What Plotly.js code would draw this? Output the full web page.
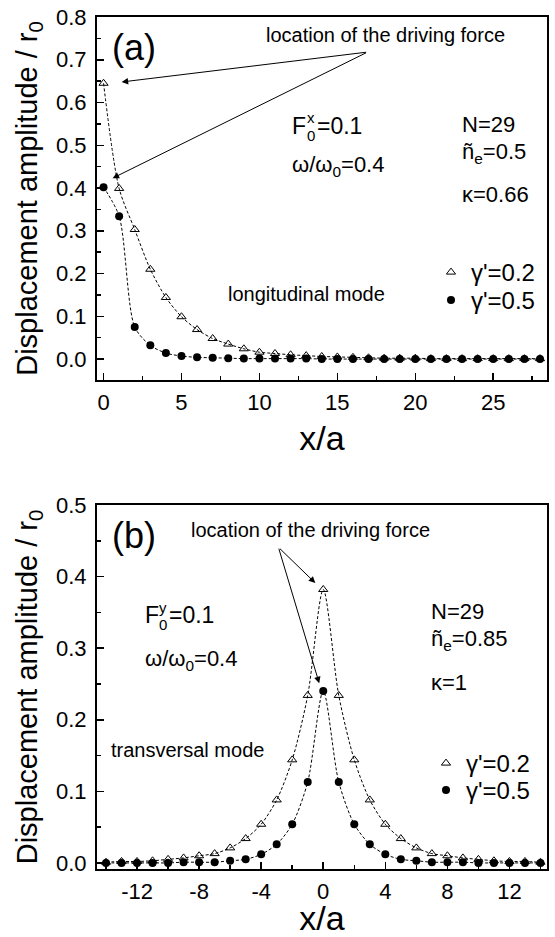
<!DOCTYPE html>
<html>
<head>
<meta charset="utf-8">
<script src="https://cdn.plot.ly/plotly-3.0.1.min.js"></script>
<style>html,body{margin:0;padding:0;background:#fff;}#chart{width:555px;height:937px;}</style>
</head>
<body>
<div id="chart"></div>
<script>
// ---- data ----
const xA = [0,1,2,3,4,5,6,7,8,9,10,11,12,13,14,15,16,17,18,19,20,21,22,23,24,25,26,27,28];
const ampA_g02 = [0.645,0.399,0.303,0.210,0.144,0.099,0.069,0.048,0.035,0.024,0.016,0.013,0.010,0.008,0.006,0.005,0.004,0.003,0.002,0.002,0.002,0.001,0.001,0.001,0.001,0.001,0.001,0.001,0.001];
const ampA_g05 = [0.402,0.334,0.075,0.032,0.014,0.007,0.004,0.003,0.002,0.001,0.001,0.001,0.001,0.001,0.000,0.000,0.000,0.000,0.000,0.000,0.000,0.000,0.000,0.000,0.000,0.000,0.000,0.000,0.000];
const xB = [-14,-13,-12,-11,-10,-9,-8,-7,-6,-5,-4,-3,-2,-1,0,1,2,3,4,5,6,7,8,9,10,11,12,13,14];
const ampB_g02 = [0.001,0.002,0.002,0.003,0.005,0.007,0.010,0.013,0.021,0.034,0.054,0.088,0.144,0.234,0.382,0.234,0.144,0.088,0.054,0.034,0.021,0.013,0.010,0.007,0.005,0.003,0.002,0.002,0.001];
const ampB_g05 = [0.000,0.000,0.000,0.000,0.000,0.001,0.001,0.001,0.003,0.005,0.012,0.026,0.054,0.113,0.240,0.113,0.054,0.026,0.012,0.005,0.003,0.001,0.001,0.001,0.000,0.000,0.000,0.000,0.000];
const seriesNames = ["γ'=0.2", "γ'=0.5"];
const tickA_y = [0.0,0.1,0.2,0.3,0.4,0.5,0.6,0.7,0.8];
const tickB_vals = [-12,-8,-4,0,4,8,12];
const tickB_text = ["-12","-8","-4","0","4","8","12"];

// ---- helpers ----
const W = 555, H = 937;
const FONT = 'Arial, "Liberation Sans", sans-serif';
const px = v => v / W;
const py = v => 1 - v / H;

function lineTrace(x, y, xa, ya) {
  return {x: x, y: y, xaxis: xa, yaxis: ya, mode: 'lines', showlegend: false, hoverinfo: 'skip',
    line: {color: '#000', width: 1, dash: '3px,2px', shape: 'spline', smoothing: 0.8}};
}
function markTrace(x, y, xa, ya, name, sym, lg) {
  const open = sym.indexOf('open') >= 0;
  return {x: x, y: y, xaxis: xa, yaxis: ya, mode: 'markers', name: name, legend: lg,
    marker: {symbol: sym, size: 8, color: '#000', line: {color: '#000', width: open ? 1 : 0}}};
}

const data = [
  lineTrace(xA, ampA_g02, 'x', 'y'),
  lineTrace(xA, ampA_g05, 'x', 'y'),
  markTrace(xA, ampA_g02, 'x', 'y', seriesNames[0], 'triangle-up-open', 'legend'),
  markTrace(xA, ampA_g05, 'x', 'y', seriesNames[1], 'circle', 'legend2'),
  lineTrace(xB, ampB_g02, 'x2', 'y2'),
  lineTrace(xB, ampB_g05, 'x2', 'y2'),
  markTrace(xB, ampB_g02, 'x2', 'y2', seriesNames[0], 'triangle-up-open', 'legend3'),
  markTrace(xB, ampB_g05, 'x2', 'y2', seriesNames[1], 'circle', 'legend4')
];

const axCommon = {
  showline: true, linewidth: 2, linecolor: '#000', mirror: true,
  showgrid: false, zeroline: false,
  ticks: 'inside', ticklen: 7, tickwidth: 1.5, tickcolor: '#000',
  tickfont: {family: FONT, size: 22, color: '#000'}
};
const xDom = [px(97), px(547)];

function txt(x, y, text, size, anchor) {
  return {xref: 'paper', yref: 'paper', x: px(x), y: py(y), text: text, showarrow: false,
    xanchor: anchor || 'left', yanchor: 'middle', font: {family: FONT, size: size, color: '#000'}};
}
function arrow(xr, yr, hx, hy, tx, ty) {
  return {xref: xr, yref: yr, axref: xr, ayref: yr, x: hx, y: hy, ax: tx, ay: ty, text: '',
    showarrow: true, arrowhead: 2, arrowsize: 1.3, arrowwidth: 1, arrowcolor: '#000', standoff: 0, startstandoff: 0};
}

const annotations = [
  // panel a
  txt(110, 48, '(a)', 36),
  txt(385, 35, 'location of the driving force', 20, 'center'),
  arrow('x', 'y', 1.16, 0.648, 16.94, 0.718),
  arrow('x', 'y', 0.58, 0.423, 16.94, 0.718),
  txt(290, 126, 'F', 23),
  txt(305, 118, 'x', 15),
  txt(305, 135, '0', 15),
  txt(315, 126, '=0.1', 23),
  txt(290, 166, 'ω/ω<sub>0</sub>=0.4', 22),
  txt(460, 125, 'N=29', 22),
  txt(460, 153, 'ñ<sub>e</sub>=0.5', 22),
  txt(460, 195, 'κ=0.66', 22),
  txt(226, 294, 'longitudinal mode', 20),
  // panel b
  txt(110, 535, '(b)', 36),
  txt(310, 530, 'location of the driving force', 20, 'center'),
  arrow('x2', 'y2', -0.51, 0.391, -2.89, 0.441),
  arrow('x2', 'y2', -0.26, 0.251, -2.89, 0.441),
  txt(143, 615, 'F', 23),
  txt(157, 607, 'y', 15),
  txt(157, 624, '0', 15),
  txt(167, 615, '=0.1', 23),
  txt(143, 660, 'ω/ω<sub>0</sub>=0.4', 22),
  txt(429, 611, 'N=29', 22),
  txt(429, 640, 'ñ<sub>e</sub>=0.85', 22),
  txt(429, 682, 'κ=1', 22),
  txt(109, 750, 'transversal mode', 20)
];

function lg(x, yTop) {
  return {x: px(x), y: py(yTop), bgcolor: 'rgba(0,0,0,0)', borderwidth: 0, xanchor: 'left', yanchor: 'top',
    font: {family: FONT, size: 24, color: '#000'}, itemwidth: 30, tracegroupgap: 0};
}

const layout = {
  width: W, height: H,
  margin: {l: 0, r: 0, t: 0, b: 0},
  paper_bgcolor: '#fff', plot_bgcolor: '#fff',
  font: {family: FONT, color: '#000'},
  showlegend: true,
  legend: lg(431, 250),
  legend2: lg(431, 278),
  legend3: lg(426, 741),
  legend4: lg(426, 768),
  xaxis: Object.assign({}, axCommon, {
    domain: xDom, anchor: 'y', range: [-0.42, 28.45], tick0: 0, dtick: 5,
    ticklabelstandoff: 2,
    minor: {dtick: 2.5, tick0: 0, ticks: 'inside', ticklen: 4, tickwidth: 1.5, tickcolor: '#000'},
    title: {text: 'x/a', font: {family: FONT, size: 34, color: '#000'}, standoff: 12}
  }),
  yaxis: Object.assign({}, axCommon, {
    domain: [py(380), py(17)], anchor: 'x', range: [-0.049, 0.8],
    tickvals: tickA_y, tickformat: '.1f', ticklabelstandoff: 4,
    minor: {dtick: 0.05, tick0: 0, ticks: 'inside', ticklen: 4, tickwidth: 1.5, tickcolor: '#000'},
    title: {text: 'Displacement amplitude / r<sub>0</sub>', font: {family: FONT, size: 29, color: '#000'}, standoff: 10}
  }),
  xaxis2: Object.assign({}, axCommon, {
    domain: xDom, anchor: 'y2', range: [-14.58, 14.42],
    tickvals: tickB_vals, ticktext: tickB_text, ticklabelstandoff: 2,
    minor: {dtick: 2, tick0: 0, ticks: 'inside', ticklen: 4, tickwidth: 1.5, tickcolor: '#000'},
    title: {text: 'x/a', font: {family: FONT, size: 34, color: '#000'}, standoff: 12}
  }),
  yaxis2: Object.assign({}, axCommon, {
    domain: [py(869), py(505)], anchor: 'x2', range: [-0.0085, 0.5],
    dtick: 0.1, tick0: 0, tickformat: '.1f', ticklabelstandoff: 4,
    minor: {dtick: 0.05, tick0: 0, ticks: 'inside', ticklen: 4, tickwidth: 1.5, tickcolor: '#000'},
    title: {text: 'Displacement amplitude / r<sub>0</sub>', font: {family: FONT, size: 29, color: '#000'}, standoff: 10}
  }),
  annotations: annotations
};

Plotly.newPlot('chart', data, layout, {staticPlot: true, displayModeBar: false});
</script>
</body>
</html>
